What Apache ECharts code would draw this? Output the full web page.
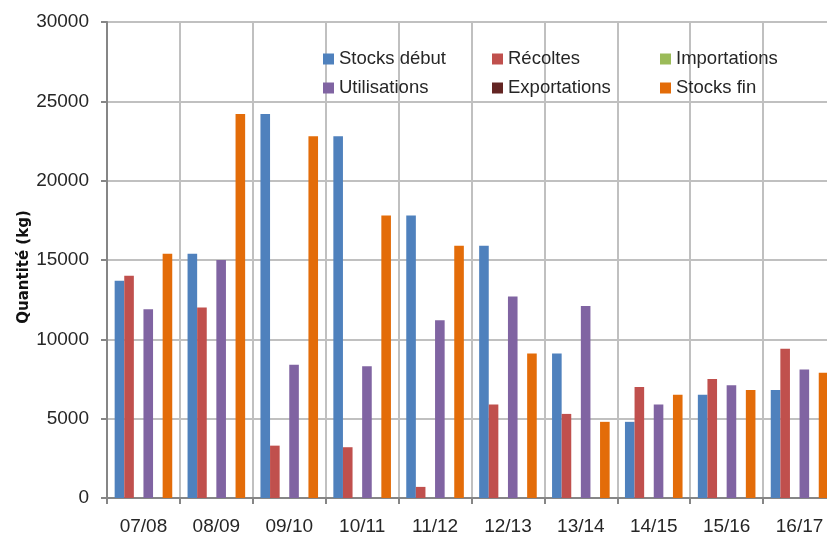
<!DOCTYPE html>
<html>
<head>
<meta charset="utf-8">
<script src="https://cdn.jsdelivr.net/npm/echarts@6/dist/echarts.min.js"></script>
<style>html,body{margin:0;padding:0;background:#fff;overflow:hidden;width:827px;height:536px;}#c{width:836px;height:536px;}</style>
</head>
<body>
<div id="c"></div>
<script>
const categories = ['07/08','08/09','09/10','10/11','11/12','12/13','13/14','14/15','15/16','16/17'];
const stocksDebut   = [13700, 15400, 24200, 22800, 17800, 15900, 9100, 4800, 6500, 6800];
const recoltes      = [14000, 12000, 3300, 3200, 700, 5900, 5300, 7000, 7500, 9400];
const importations  = [0, 0, 0, 0, 0, 0, 0, 0, 0, 0];
const utilisations  = [11900, 15000, 8400, 8300, 11200, 12700, 12100, 5900, 7100, 8100];
const exportations  = [0, 0, 0, 0, 0, 0, 0, 0, 0, 0];
const stocksFin     = [15400, 24200, 22800, 17800, 15900, 9100, 4800, 6500, 6800, 7900];
const yTicks = [0, 5000, 10000, 15000, 20000, 25000, 30000];

const names = ['Stocks début','Récoltes','Importations','Utilisations','Exportations','Stocks fin'];
const colors = ['#4f81bd','#c0504d','#9bbb59','#8064a2','#632523','#e36c09'];
const dataSets = [stocksDebut, recoltes, importations, utilisations, exportations, stocksFin];

const FONT = '"Liberation Sans", Arial, sans-serif';
const legendPos = [
  {left: 323, top: 49}, {left: 492, top: 49}, {left: 660, top: 49},
  {left: 323, top: 78}, {left: 492, top: 78}, {left: 660, top: 78}
];
const legendOrder = ['Stocks début','Récoltes','Importations','Utilisations','Exportations','Stocks fin'];

const chart = echarts.init(document.getElementById('c'), null, {renderer: 'canvas'});
chart.setOption({
  animation: false,
  color: colors,
  grid: {left: 107, top: 22, right: 0, bottom: 37, containLabel: false},
  legend: legendOrder.map((n, i) => ({
    data: [n], left: legendPos[i].left, top: legendPos[i].top,
    icon: 'rect', itemWidth: 11, itemHeight: 11, padding: 0,
    selectedMode: false,
    textStyle: {fontFamily: FONT, fontSize: 18.5, color: '#262626', lineHeight: 20}
  })),
  xAxis: {
    type: 'category',
    data: categories,
    axisLine: {show: true, lineStyle: {color: '#868686', width: 2}},
    axisTick: {show: true, length: 6, lineStyle: {color: '#868686', width: 2}},
    splitLine: {show: true, lineStyle: {color: '#c0c0c0', width: 2}},
    axisLabel: {fontFamily: FONT, fontSize: 19, color: '#262626', margin: 19}
  },
  yAxis: {
    type: 'value',
    min: yTicks[0], max: yTicks[yTicks.length - 1], interval: yTicks[1] - yTicks[0],
    name: 'Quantité (kg)',
    nameLocation: 'middle',
    nameGap: 75,
    nameMoveOverlap: false,
    nameTextStyle: {fontFamily: '"DejaVu Sans", sans-serif', fontWeight: 'bold', fontSize: 15, color: '#111', padding: [0, 14, 0, 0]},
    axisLine: {show: true, lineStyle: {color: '#868686', width: 2}},
    axisTick: {show: true, length: 6, lineStyle: {color: '#868686', width: 2}},
    splitLine: {show: true, lineStyle: {color: '#c0c0c0', width: 2}},
    axisLabel: {fontFamily: FONT, fontSize: 19, color: '#262626', margin: 18, formatter: v => String(v)}
  },
  series: names.map((n, i) => ({
    name: n,
    type: 'bar',
    data: dataSets[i],
    barGap: '0%',
    barCategoryGap: '21%',
    itemStyle: {color: colors[i]}
  }))
});
</script>
</body>
</html>
